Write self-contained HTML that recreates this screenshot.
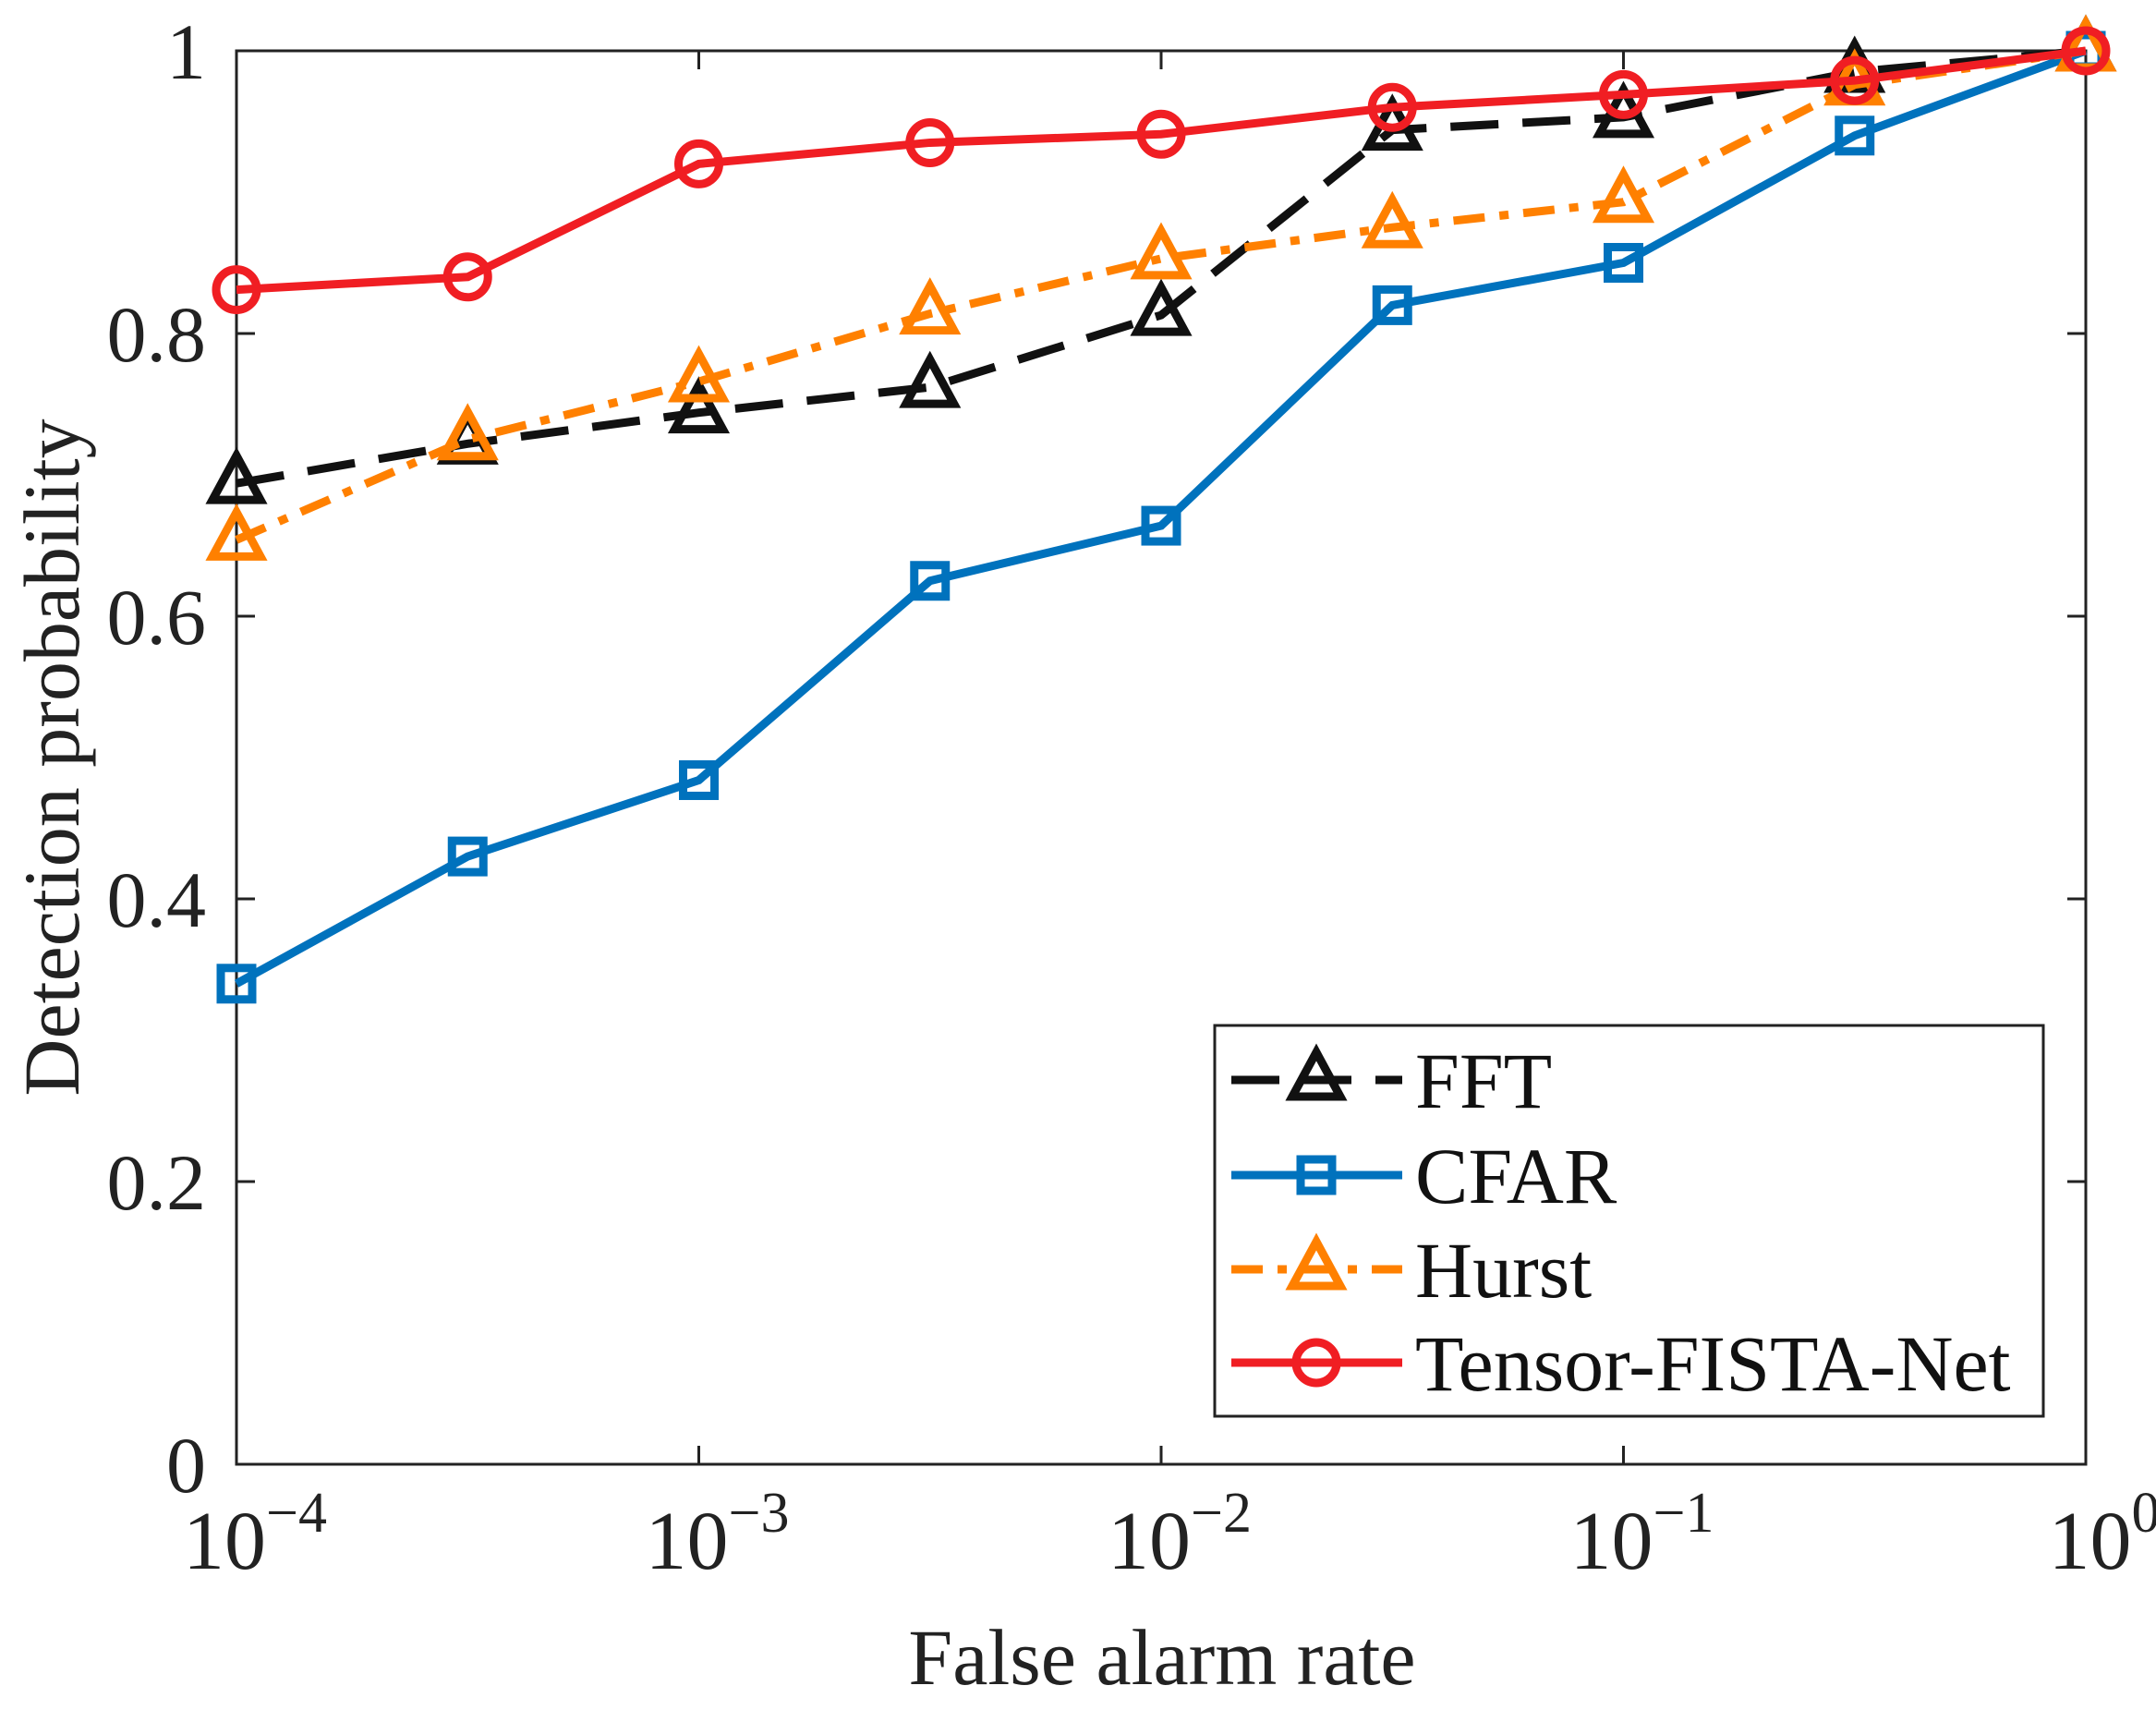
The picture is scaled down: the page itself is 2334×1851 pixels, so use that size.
<!DOCTYPE html>
<html><head><meta charset="utf-8"><style>
html,body{margin:0;padding:0;background:#fff;}
svg{display:block;font-family:"Liberation Serif",serif;}
</style></head><body>
<svg id="chart" width="2334" height="1851" viewBox="0 0 2334 1851" xmlns="http://www.w3.org/2000/svg"></svg>
<script>
const xExponents = [-4, -3.5, -3, -2.5, -2, -1.5, -1, -0.5, 0];
const fftValues = [0.694, 0.722, 0.744, 0.762, 0.813, 0.944, 0.953, 0.985, 1.0];
const cfarValues = [0.340, 0.430, 0.484, 0.625, 0.664, 0.820, 0.850, 0.940, 1.0];
const hurstValues = [0.654, 0.725, 0.766, 0.814, 0.853, 0.875, 0.893, 0.976, 1.0];
const tensorValues = [0.831, 0.840, 0.920, 0.935, 0.941, 0.960, 0.969, 0.979, 1.0];
const yTickValues = [0, 0.2, 0.4, 0.6, 0.8, 1];
const yTickLabels = ["0", "0.2", "0.4", "0.6", "0.8", "1"];
const xTickExponents = [-4, -3, -2, -1, 0];
const xTickLabels = ["−4", "−3", "−2", "−1", "0"];

const NS = "http://www.w3.org/2000/svg";
const svg = document.getElementById("chart");
const L = 256, R = 2258, T = 55, B = 1585;
const SW = 9;
const xs = e => L + (e + 4) / 4 * (R - L);
const ys = v => B - v * (B - T);
function mk(tag, attrs, parent) {
  const el = document.createElementNS(NS, tag);
  for (const k in attrs) el.setAttribute(k, attrs[k]);
  (parent || svg).appendChild(el);
  return el;
}
let box = mk("rect", {x: L, y: T, width: R - L, height: B - T, fill: "none", stroke: "#222", "stroke-width": 3});


yTickValues.forEach((v, i) => {
  const y = ys(v);
  let t1 = mk("line", {x1: L, y1: y, x2: L + 20, y2: y, stroke: "#222", "stroke-width": 3});
  
  
  let t2 = mk("line", {x1: R, y1: y, x2: R - 20, y2: y, stroke: "#222", "stroke-width": 3});
  
  
  let lb = mk("text", {x: 223, y: y + 30, "text-anchor": "end", "font-size": 86, fill: "#222"});
  lb.textContent = yTickLabels[i];
  
  
});
xTickExponents.forEach((e, i) => {
  const x = xs(e);
  let t1 = mk("line", {x1: x, y1: B, x2: x, y2: B - 20, stroke: "#222", "stroke-width": 3});
  
  
  let t2 = mk("line", {x1: x, y1: T, x2: x, y2: T + 20, stroke: "#222", "stroke-width": 3});
  
  
  let lb = mk("text", {x: x + 20, y: 1698, "text-anchor": "middle", "font-size": 90, fill: "#222"});
  
  
  const base = mk("tspan", {}, lb); base.textContent = "10";
  const sup = mk("tspan", {dy: -40, "font-size": 62}, lb); sup.textContent = xTickLabels[i];
});
let xt = mk("text", {x: 1258, y: 1823, "text-anchor": "middle", "font-size": 86, fill: "#222"});
xt.textContent = "False alarm rate";


let yt = mk("text", {x: 0, y: 0, "text-anchor": "middle", "font-size": 86, fill: "#222", transform: "translate(85,820) rotate(-90)"});
yt.textContent = "Detection probability";



function marker(g, type, x, y, color) {
  let m;
  if (type === "tri") m = mk("polygon", {points: `${x},${y-30} ${x-26},${y+18} ${x+26},${y+18}`, fill: "none", stroke: color, "stroke-width": SW}, g);
  else if (type === "sq") m = mk("rect", {x: x - 17, y: y - 17, width: 34, height: 34, fill: "none", stroke: color, "stroke-width": SW}, g);
  else m = mk("circle", {cx: x, cy: y, r: 22, fill: "none", stroke: color, "stroke-width": SW}, g);
  
  
}
const series = [
  {name: "FFT", vals: fftValues, color: "#111", dash: "52 26", m: "tri"},
  {name: "CFAR", vals: cfarValues, color: "#0072bd", dash: "", m: "sq"},
  {name: "Hurst", vals: hurstValues, color: "#ff8000", dash: "34 16 10 16", m: "tri"},
  {name: "Tensor-FISTA-Net", vals: tensorValues, color: "#f01e23", dash: "", m: "circ"}
];
series.forEach(s => {
  const g = mk("g", {});
  
  
  const pts = s.vals.map((v, i) => `${xs(xExponents[i])},${ys(v)}`).join(" ");
  const pl = mk("polyline", {points: pts, fill: "none", stroke: s.color, "stroke-width": SW, "stroke-dasharray": s.dash}, g);
  
  
  s.vals.forEach((v, i) => marker(g, s.m, xs(xExponents[i]), ys(v), s.color));
});
const lg = mk("g", {});


mk("rect", {x: 1315, y: 1110, width: 897, height: 423, fill: "#fff", stroke: "#222", "stroke-width": 3}, lg);
const rowsY = [1169, 1272, 1374, 1475];
series.forEach((s, i) => {
  const g = mk("g", {}, lg);
  
  
  const y = rowsY[i];
  mk("line", {x1: 1333, y1: y, x2: 1518, y2: y, stroke: s.color, "stroke-width": SW, "stroke-dasharray": s.dash}, g);
  marker(g, s.m, 1425, y, s.color);
  const t = mk("text", {x: 1532, y: y + 30, "font-size": 86, fill: "#111"}, g);
  t.textContent = s.name;
  
  
});
</script>
</body></html>
